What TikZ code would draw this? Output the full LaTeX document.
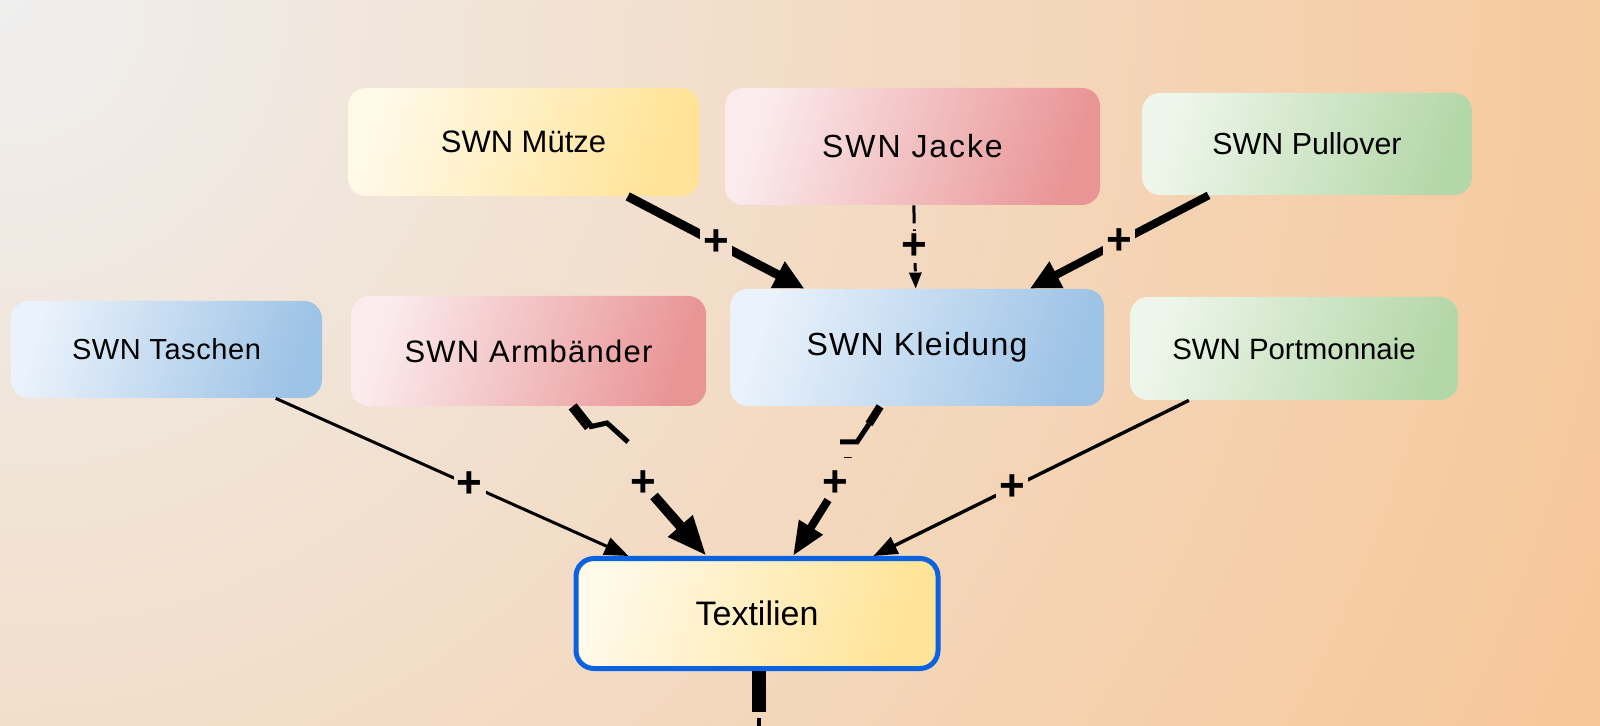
\documentclass[tikz,border=0pt]{standalone}
\usepackage{fontspec}
\setmainfont{Liberation Sans}
\usetikzlibrary{arrows.meta, calc, positioning}

\definecolor{bgleft}{HTML}{EFEFEF}
\definecolor{bgright}{HTML}{F7C595}
\definecolor{bgA}{HTML}{F2DDCA}
\definecolor{bgB}{HTML}{F3D9C0}
\definecolor{bgC}{HTML}{F4D4B5}
\definecolor{bgD}{HTML}{F2E0CE}
\definecolor{yellowA}{HTML}{FFF9E8}
\definecolor{yellowB}{HTML}{FFE396}
\definecolor{redA}{HTML}{FBEBED}
\definecolor{redB}{HTML}{E99596}
\definecolor{greenA}{HTML}{EEF6EB}
\definecolor{greenB}{HTML}{B4D7A8}
\definecolor{blueA}{HTML}{EAF2FB}
\definecolor{blueB}{HTML}{9DC3E6}
\definecolor{frameblue}{HTML}{0A62E0}

\tikzset{
    box/.style={rectangle, rounded corners=9pt, inner sep=0pt, align=center},
    yellowbox/.style={box, top color=yellowA, bottom color=yellowB, shading angle=72},
    redbox/.style={box, top color=redA, bottom color=redB, shading angle=72},
    greenbox/.style={box, top color=greenA, bottom color=greenB, shading angle=72},
    bluebox/.style={box, top color=blueA, bottom color=blueB, shading angle=72},
    plus/.style={fill=#1, inner sep=1.5pt, font=\fontsize{22}{22}\selectfont\bfseries},
    plus/.default=none,
    link/.style={line width=1.5pt, -{Triangle[length=12pt, width=9pt]}},
    heavylink/.style={line width=4.5pt, -{Triangle[length=15pt, width=14pt]}}
}

\begin{document}
\begin{tikzpicture}[x=0.5pt, y=-0.5pt]
    \useasboundingbox (0,0) rectangle (1600,726);
    % Background
    \begin{scope}
        \clip (0,0) rectangle (1600,726);
        \shade[inner color=bgleft, outer color=bgright] (0,0) circle (900pt);
    \end{scope}

    % Upper row
    \node[yellowbox, minimum width=175.5pt, minimum height=54pt,
          font=\fontsize{15.5}{18}\selectfont] (muetze) at (523.5,142) {SWN Mütze};
    \node[redbox, minimum width=187.5pt, minimum height=58.5pt,
          font=\fontsize{16}{19}\selectfont\addfontfeature{LetterSpace=6}] (jacke) at (912.5,146.5) {SWN Jacke};
    \node[greenbox, minimum width=165pt, minimum height=51pt,
          font=\fontsize{15.2}{18}\selectfont] (pullover) at (1307,144) {SWN Pullover};

    % Middle row
    \node[bluebox, minimum width=155.5pt, minimum height=48.5pt,
          font=\fontsize{14.5}{17}\selectfont\addfontfeature{LetterSpace=2}] (taschen) at (166.5,349.5) {SWN Taschen};
    \node[redbox, minimum width=177.5pt, minimum height=55pt,
          font=\fontsize{15.5}{18}\selectfont\addfontfeature{LetterSpace=4}] (armbaender) at (528.5,351) {SWN Armbänder};
    \node[bluebox, minimum width=187pt, minimum height=58.5pt,
          font=\fontsize{16}{19}\selectfont\addfontfeature{LetterSpace=4}] (kleidung) at (917,347.5) {SWN Kleidung};
    \node[greenbox, minimum width=164pt, minimum height=51.5pt,
          font=\fontsize{14.7}{17}\selectfont] (portmonnaie) at (1294,348.5) {SWN Portmonnaie};

    % Target
    \node[yellowbox, draw=frameblue, line width=2.5pt, minimum width=181pt, minimum height=55pt,
          font=\fontsize{17}{20}\selectfont] (textilien) at (757,613.5) {Textilien};

    % Into Kleidung
    \draw[heavylink] (muetze) -- node[plus=bgA] (p1) {+} (kleidung);
    \draw[link, line width=1.5pt, dash pattern=on 9pt off 3pt,
          -{Triangle[length=8pt, width=6pt]}] (jacke) -- node[plus=bgB] (p2) {+} (kleidung);
    \draw[heavylink, line width=4pt] (pullover) -- node[plus=bgC] (p3) {+} (kleidung);

    % Into Textilien
    \draw[link] (taschen) -- node[plus=bgD, pos=0.55] (p4) {+} (textilien);
    \draw[link, line width=1.7pt] (portmonnaie) -- node[plus=bgC, pos=0.56] (p5) {+} (textilien);

    % Armbaender edge
    \coordinate (ab1) at (589,427);
    \coordinate (ab2) at (607,423);
    \coordinate (ab3) at (628,442);
    \coordinate (ab4) at (654,496);
    \draw[line width=5pt] (armbaender) -- (ab1);
    \draw[line width=2.5pt] (ab1) -- (ab2) -- (ab3);
    \node[plus] (p6) at (643,484) {+};
    \draw[line width=5pt, -{Triangle[length=20pt, width=15pt]}] (ab4) -- (textilien);

    % Kleidung edge
    \coordinate (kl1) at (869,424);
    \coordinate (kl2) at (857,442);
    \coordinate (kl3) at (840,442);
    \coordinate (kl4) at (828,500);
    \draw[line width=4pt] (kleidung) -- (kl1);
    \draw[line width=2.5pt] (kl1) -- (kl2) -- (kl3);
    \node[inner sep=0pt, font=\fontsize{7}{7}\selectfont] (m1) at (848,459) {--};
    \node[plus] (p7) at (835,484) {+};
    \draw[line width=4pt, -{Triangle[length=17pt, width=13pt]}] (kl4) -- (textilien);

    % Outgoing
    \coordinate (tx1) at (759,712);
    \coordinate (tx2) at (759,718);
    \coordinate (tx3) at (759,730);
    \draw[line width=7pt] (textilien.south -| tx1) -- (tx1);
    \draw[line width=2pt] (tx2) -- (tx3);
\end{tikzpicture}
\end{document}
